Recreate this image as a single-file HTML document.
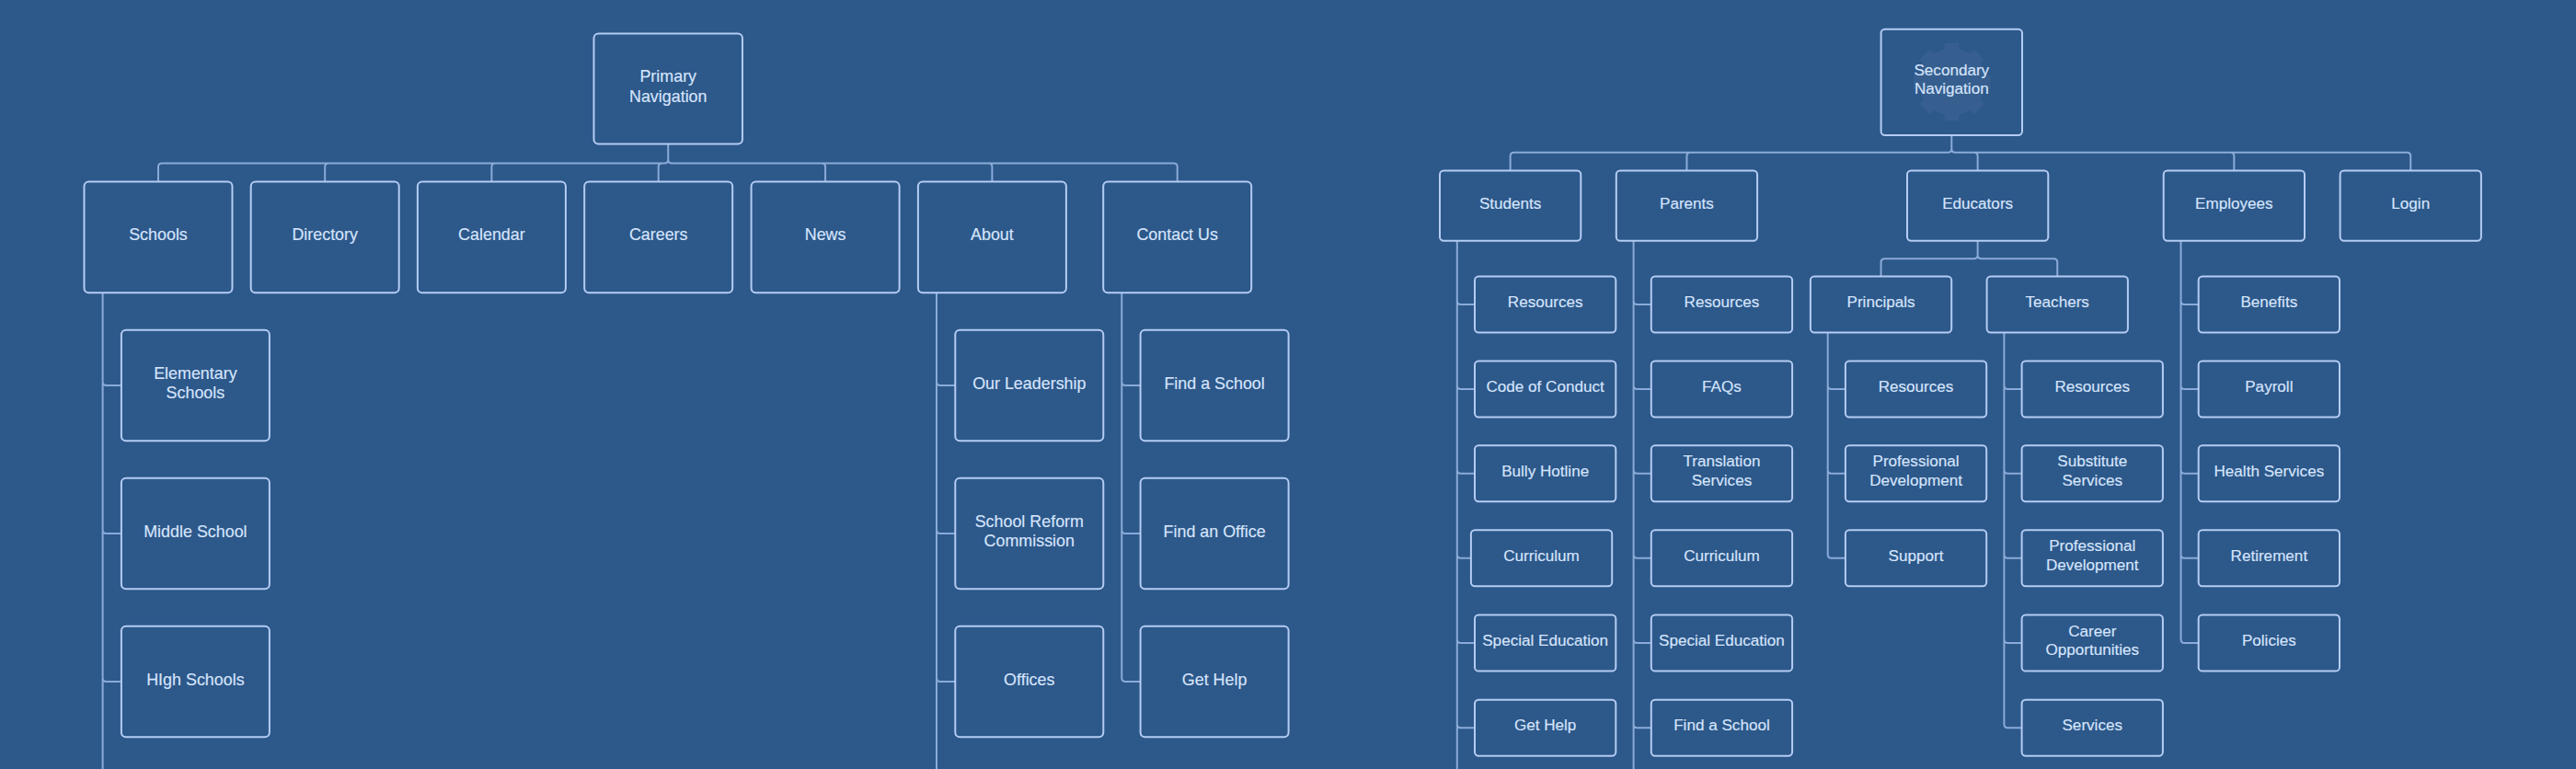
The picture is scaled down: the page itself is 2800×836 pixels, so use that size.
<!DOCTYPE html>
<html><head><meta charset="utf-8"><style>
html,body{margin:0;padding:0;background:#2d588a;}
body{width:2800px;height:836px;overflow:hidden;}
svg{display:block;}
text{font-family:"Liberation Sans",sans-serif;fill:#d6e5fc;stroke:#d6e5fc;stroke-width:0.15px;text-anchor:middle;}
</style></head><body>
<svg width="2800" height="836" viewBox="0 0 2800 836">
<rect x="0" y="0" width="2800" height="836" fill="#2d588a"/>
<path d="M2113.1,53.5L2114.3,47.1L2128.9,47.1L2130.1,53.5L2140.7,57.9L2146.0,54.2L2156.4,64.6L2152.7,69.9L2157.1,80.5L2163.5,81.7L2163.5,96.3L2157.1,97.5L2152.7,108.1L2156.4,113.4L2146.0,123.8L2140.7,120.1L2130.1,124.5L2128.9,130.9L2114.3,130.9L2113.1,124.5L2102.5,120.1L2097.2,123.8L2086.8,113.4L2090.5,108.1L2086.1,97.5L2079.7,96.3L2079.7,81.7L2086.1,80.5L2090.5,69.9L2086.8,64.6L2097.2,54.2L2102.5,57.9Z" fill="#ffffff" fill-opacity="0.045"/>
<g fill="none" stroke="#8aabd8" stroke-width="2">
<path d="M726.25,156.50V173.40Q726.25,177.40 722.25,177.40H176.00Q172.00,177.40 172.00,181.40V197.40 M726.25,156.50V173.40Q726.25,177.40 722.25,177.40H357.20Q353.20,177.40 353.20,181.40V197.40 M726.25,156.50V173.40Q726.25,177.40 722.25,177.40H538.40Q534.40,177.40 534.40,181.40V197.40 M726.25,156.50V173.40Q726.25,177.40 722.25,177.40H719.70Q715.70,177.40 715.70,181.40V197.40 M726.25,156.50V173.40Q726.25,177.40 730.25,177.40H893.10Q897.10,177.40 897.10,181.40V197.40 M726.25,156.50V173.40Q726.25,177.40 730.25,177.40H1074.40Q1078.40,177.40 1078.40,181.40V197.40 M726.25,156.50V173.40Q726.25,177.40 730.25,177.40H1275.70Q1279.70,177.40 1279.70,181.40V197.40 M111.60,318.20V415.00Q111.60,419.00 115.60,419.00H131.90 M111.60,318.20V576.00Q111.60,580.00 115.60,580.00H131.90 M111.60,318.20V737.00Q111.60,741.00 115.60,741.00H131.90 M111.60,318.20V840 M1018.00,318.20V415.00Q1018.00,419.00 1022.00,419.00H1038.30 M1018.00,318.20V576.00Q1018.00,580.00 1022.00,580.00H1038.30 M1018.00,318.20V737.00Q1018.00,741.00 1022.00,741.00H1038.30 M1018.00,318.20V840 M1219.30,318.20V415.00Q1219.30,419.00 1223.30,419.00H1239.60 M1219.30,318.20V576.00Q1219.30,580.00 1223.30,580.00H1239.60 M1219.30,318.20V737.00Q1219.30,741.00 1223.30,741.00H1239.60 M2121.30,146.90V161.80Q2121.30,165.80 2117.30,165.80H1645.65Q1641.65,165.80 1641.65,169.80V185.60 M2121.30,146.90V161.80Q2121.30,165.80 2117.30,165.80H1837.45Q1833.45,165.80 1833.45,169.80V185.60 M2121.30,146.90V161.80Q2121.30,165.80 2125.30,165.80H2145.65Q2149.65,165.80 2149.65,169.80V185.60 M2121.30,146.90V161.80Q2121.30,165.80 2125.30,165.80H2424.35Q2428.35,165.80 2428.35,169.80V185.60 M2121.30,146.90V161.80Q2121.30,165.80 2125.30,165.80H2616.25Q2620.25,165.80 2620.25,169.80V185.60 M1583.80,261.70V327.00Q1583.80,331.00 1587.80,331.00H1603.00 M1583.80,261.70V419.00Q1583.80,423.00 1587.80,423.00H1603.00 M1583.80,261.70V510.80Q1583.80,514.80 1587.80,514.80H1603.00 M1583.80,261.70V602.80Q1583.80,606.80 1587.80,606.80H1598.90 M1583.80,261.70V695.10Q1583.80,699.10 1587.80,699.10H1603.00 M1583.80,261.70V787.30Q1583.80,791.30 1587.80,791.30H1603.00 M1583.80,261.70V840 M1775.60,261.70V327.00Q1775.60,331.00 1779.60,331.00H1794.80 M1775.60,261.70V419.00Q1775.60,423.00 1779.60,423.00H1794.80 M1775.60,261.70V510.80Q1775.60,514.80 1779.60,514.80H1794.80 M1775.60,261.70V602.80Q1775.60,606.80 1779.60,606.80H1794.80 M1775.60,261.70V695.10Q1775.60,699.10 1779.60,699.10H1794.80 M1775.60,261.70V787.30Q1775.60,791.30 1779.60,791.30H1794.80 M1775.60,261.70V840 M2149.65,261.70V277.20Q2149.65,281.20 2145.65,281.20H2048.55Q2044.55,281.20 2044.55,285.20V300.40 M2149.65,261.70V277.20Q2149.65,281.20 2153.65,281.20H2232.25Q2236.25,281.20 2236.25,285.20V300.40 M1986.70,361.40V419.00Q1986.70,423.00 1990.70,423.00H2005.90 M1986.70,361.40V510.80Q1986.70,514.80 1990.70,514.80H2005.90 M1986.70,361.40V602.80Q1986.70,606.80 1990.70,606.80H2005.90 M2178.40,361.40V419.00Q2178.40,423.00 2182.40,423.00H2197.60 M2178.40,361.40V510.80Q2178.40,514.80 2182.40,514.80H2197.60 M2178.40,361.40V602.80Q2178.40,606.80 2182.40,606.80H2197.60 M2178.40,361.40V695.10Q2178.40,699.10 2182.40,699.10H2197.60 M2178.40,361.40V787.30Q2178.40,791.30 2182.40,791.30H2197.60 M2370.50,261.70V327.00Q2370.50,331.00 2374.50,331.00H2389.70 M2370.50,261.70V419.00Q2370.50,423.00 2374.50,423.00H2389.70 M2370.50,261.70V510.80Q2370.50,514.80 2374.50,514.80H2389.70 M2370.50,261.70V602.80Q2370.50,606.80 2374.50,606.80H2389.70 M2370.50,261.70V695.10Q2370.50,699.10 2374.50,699.10H2389.70"/>
</g>
<g fill="none" stroke="#b4ccf3" stroke-width="2">
<rect x="645.50" y="36.60" width="161.50" height="119.90" rx="5" ry="5"/>
<rect x="91.50" y="197.40" width="161.00" height="120.80" rx="5" ry="5"/>
<rect x="272.70" y="197.40" width="161.00" height="120.80" rx="5" ry="5"/>
<rect x="453.90" y="197.40" width="161.00" height="120.80" rx="5" ry="5"/>
<rect x="635.20" y="197.40" width="161.00" height="120.80" rx="5" ry="5"/>
<rect x="816.60" y="197.40" width="161.00" height="120.80" rx="5" ry="5"/>
<rect x="997.90" y="197.40" width="161.00" height="120.80" rx="5" ry="5"/>
<rect x="1199.20" y="197.40" width="161.00" height="120.80" rx="5" ry="5"/>
<rect x="131.90" y="358.80" width="161.00" height="120.40" rx="5" ry="5"/>
<rect x="131.90" y="519.80" width="161.00" height="120.40" rx="5" ry="5"/>
<rect x="131.90" y="680.80" width="161.00" height="120.40" rx="5" ry="5"/>
<rect x="1038.30" y="358.80" width="161.00" height="120.40" rx="5" ry="5"/>
<rect x="1038.30" y="519.80" width="161.00" height="120.40" rx="5" ry="5"/>
<rect x="1038.30" y="680.80" width="161.00" height="120.40" rx="5" ry="5"/>
<rect x="1239.60" y="358.80" width="161.00" height="120.40" rx="5" ry="5"/>
<rect x="1239.60" y="519.80" width="161.00" height="120.40" rx="5" ry="5"/>
<rect x="1239.60" y="680.80" width="161.00" height="120.40" rx="5" ry="5"/>
<rect x="2044.60" y="31.70" width="153.40" height="115.20" rx="4.2" ry="4.2"/>
<rect x="1565.00" y="185.60" width="153.30" height="76.10" rx="4.2" ry="4.2"/>
<rect x="1756.80" y="185.60" width="153.30" height="76.10" rx="4.2" ry="4.2"/>
<rect x="2073.00" y="185.60" width="153.30" height="76.10" rx="4.2" ry="4.2"/>
<rect x="2351.70" y="185.60" width="153.30" height="76.10" rx="4.2" ry="4.2"/>
<rect x="2543.60" y="185.60" width="153.30" height="76.10" rx="4.2" ry="4.2"/>
<rect x="1603.00" y="300.50" width="153.30" height="61.00" rx="4.2" ry="4.2"/>
<rect x="1603.00" y="392.50" width="153.30" height="61.00" rx="4.2" ry="4.2"/>
<rect x="1603.00" y="484.30" width="153.30" height="61.00" rx="4.2" ry="4.2"/>
<rect x="1598.90" y="576.30" width="153.30" height="61.00" rx="4.2" ry="4.2"/>
<rect x="1603.00" y="668.60" width="153.30" height="61.00" rx="4.2" ry="4.2"/>
<rect x="1603.00" y="760.80" width="153.30" height="61.00" rx="4.2" ry="4.2"/>
<rect x="1794.80" y="300.50" width="153.30" height="61.00" rx="4.2" ry="4.2"/>
<rect x="1794.80" y="392.50" width="153.30" height="61.00" rx="4.2" ry="4.2"/>
<rect x="1794.80" y="484.30" width="153.30" height="61.00" rx="4.2" ry="4.2"/>
<rect x="1794.80" y="576.30" width="153.30" height="61.00" rx="4.2" ry="4.2"/>
<rect x="1794.80" y="668.60" width="153.30" height="61.00" rx="4.2" ry="4.2"/>
<rect x="1794.80" y="760.80" width="153.30" height="61.00" rx="4.2" ry="4.2"/>
<rect x="1967.90" y="300.40" width="153.30" height="61.00" rx="4.2" ry="4.2"/>
<rect x="2159.60" y="300.40" width="153.30" height="61.00" rx="4.2" ry="4.2"/>
<rect x="2005.90" y="392.50" width="153.30" height="61.00" rx="4.2" ry="4.2"/>
<rect x="2005.90" y="484.30" width="153.30" height="61.00" rx="4.2" ry="4.2"/>
<rect x="2005.90" y="576.30" width="153.30" height="61.00" rx="4.2" ry="4.2"/>
<rect x="2197.60" y="392.50" width="153.30" height="61.00" rx="4.2" ry="4.2"/>
<rect x="2197.60" y="484.30" width="153.30" height="61.00" rx="4.2" ry="4.2"/>
<rect x="2197.60" y="576.30" width="153.30" height="61.00" rx="4.2" ry="4.2"/>
<rect x="2197.60" y="668.60" width="153.30" height="61.00" rx="4.2" ry="4.2"/>
<rect x="2197.60" y="760.80" width="153.30" height="61.00" rx="4.2" ry="4.2"/>
<rect x="2389.70" y="300.50" width="153.30" height="61.00" rx="4.2" ry="4.2"/>
<rect x="2389.70" y="392.50" width="153.30" height="61.00" rx="4.2" ry="4.2"/>
<rect x="2389.70" y="484.30" width="153.30" height="61.00" rx="4.2" ry="4.2"/>
<rect x="2389.70" y="576.30" width="153.30" height="61.00" rx="4.2" ry="4.2"/>
<rect x="2389.70" y="668.60" width="153.30" height="61.00" rx="4.2" ry="4.2"/>
</g>
<g>
<text x="726.25" y="89.30" font-size="17.9">Primary</text>
<text x="726.25" y="110.80" font-size="17.9">Navigation</text>
<text x="172.00" y="261.30" font-size="17.9">Schools</text>
<text x="353.20" y="261.30" font-size="17.9">Directory</text>
<text x="534.40" y="261.30" font-size="17.9">Calendar</text>
<text x="715.70" y="261.30" font-size="17.9">Careers</text>
<text x="897.10" y="261.30" font-size="17.9">News</text>
<text x="1078.40" y="261.30" font-size="17.9">About</text>
<text x="1279.70" y="261.30" font-size="17.9">Contact Us</text>
<text x="212.40" y="411.75" font-size="17.9">Elementary</text>
<text x="212.40" y="433.25" font-size="17.9">Schools</text>
<text x="212.40" y="583.50" font-size="17.9">Middle School</text>
<text x="212.40" y="744.50" font-size="17.9">HIgh Schools</text>
<text x="1118.80" y="422.50" font-size="17.9">Our Leadership</text>
<text x="1118.80" y="572.75" font-size="17.9">School Reform</text>
<text x="1118.80" y="594.25" font-size="17.9">Commission</text>
<text x="1118.80" y="744.50" font-size="17.9">Offices</text>
<text x="1320.10" y="422.50" font-size="17.9">Find a School</text>
<text x="1320.10" y="583.50" font-size="17.9">Find an Office</text>
<text x="1320.10" y="744.50" font-size="17.9">Get Help</text>
<text x="2121.30" y="81.95" font-size="17.1">Secondary</text>
<text x="2121.30" y="102.45" font-size="17.1">Navigation</text>
<text x="1641.65" y="226.55" font-size="17.1">Students</text>
<text x="1833.45" y="226.55" font-size="17.1">Parents</text>
<text x="2149.65" y="226.55" font-size="17.1">Educators</text>
<text x="2428.35" y="226.55" font-size="17.1">Employees</text>
<text x="2620.25" y="226.55" font-size="17.1">Login</text>
<text x="1679.65" y="333.90" font-size="17.1">Resources</text>
<text x="1679.65" y="425.90" font-size="17.1">Code of Conduct</text>
<text x="1679.65" y="517.70" font-size="17.1">Bully Hotline</text>
<text x="1675.55" y="609.70" font-size="17.1">Curriculum</text>
<text x="1679.65" y="702.00" font-size="17.1">Special Education</text>
<text x="1679.65" y="794.20" font-size="17.1">Get Help</text>
<text x="1871.45" y="333.90" font-size="17.1">Resources</text>
<text x="1871.45" y="425.90" font-size="17.1">FAQs</text>
<text x="1871.45" y="507.45" font-size="17.1">Translation</text>
<text x="1871.45" y="527.95" font-size="17.1">Services</text>
<text x="1871.45" y="609.70" font-size="17.1">Curriculum</text>
<text x="1871.45" y="702.00" font-size="17.1">Special Education</text>
<text x="1871.45" y="794.20" font-size="17.1">Find a School</text>
<text x="2044.55" y="333.80" font-size="17.1">Principals</text>
<text x="2236.25" y="333.80" font-size="17.1">Teachers</text>
<text x="2082.55" y="425.90" font-size="17.1">Resources</text>
<text x="2082.55" y="507.45" font-size="17.1">Professional</text>
<text x="2082.55" y="527.95" font-size="17.1">Development</text>
<text x="2082.55" y="609.70" font-size="17.1">Support</text>
<text x="2274.25" y="425.90" font-size="17.1">Resources</text>
<text x="2274.25" y="507.45" font-size="17.1">Substitute</text>
<text x="2274.25" y="527.95" font-size="17.1">Services</text>
<text x="2274.25" y="599.45" font-size="17.1">Professional</text>
<text x="2274.25" y="619.95" font-size="17.1">Development</text>
<text x="2274.25" y="691.75" font-size="17.1">Career</text>
<text x="2274.25" y="712.25" font-size="17.1">Opportunities</text>
<text x="2274.25" y="794.20" font-size="17.1">Services</text>
<text x="2466.35" y="333.90" font-size="17.1">Benefits</text>
<text x="2466.35" y="425.90" font-size="17.1">Payroll</text>
<text x="2466.35" y="517.70" font-size="17.1">Health Services</text>
<text x="2466.35" y="609.70" font-size="17.1">Retirement</text>
<text x="2466.35" y="702.00" font-size="17.1">Policies</text>
</g>
</svg>
</body></html>
